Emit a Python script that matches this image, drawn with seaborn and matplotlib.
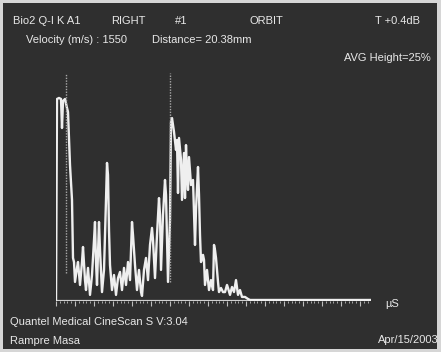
"""
A-scan echogram (Quantel CineScan) redrawn with seaborn / matplotlib
"""

import numpy as np
import pandas as pd
import matplotlib
matplotlib.use("Agg")
import matplotlib.pyplot as plt
from matplotlib import font_manager
from matplotlib.patches import Rectangle
from matplotlib.ticker import MultipleLocator
import seaborn as sns


# ── data ───────────────────────────────────────────────────────────
# depth position (display samples) and echo height (% of full scale)
depth = [0, 1, 3, 5, 6, 7, 9, 11, 12, 14, 16, 17, 18, 19, 21, 22, 24, 26, 27, 29,
         30, 32, 34, 36, 38, 39, 40, 41, 43, 44, 46, 48, 50, 51, 52, 53, 54, 56, 58, 60,
         62, 64, 66, 68, 70, 72, 74, 76, 77, 79, 81, 83, 85, 86, 88, 90, 92, 94, 96, 97,
         99, 101, 103, 104, 105, 107, 109, 110, 112, 114, 115, 116, 118, 120, 121, 122, 123, 125, 126, 128,
         129, 130, 131, 132, 133, 135, 137, 139, 140, 142, 143, 144, 145, 147, 148, 149, 151, 153, 155, 157,
         158, 159, 160, 162, 163, 165, 167, 169, 171, 172, 174, 176, 178, 180, 182, 184, 186, 189, 192, 194,
         315]
height = [0, 99.5, 100, 99.5, 85.2, 98.5, 99.5, 95.1, 93.1, 67.0, 49.8, 21.2, 19.2, 9.4, 16.3, 19.2, 7.9, 19.2, 26.6, 10.3,
          5.4, 16.3, 3.0, 12.8, 30.0, 38.9, 19.2, 7.9, 38.9, 25.1, 4.4, 15.3, 49.8, 68.0, 62.1, 35.0, 17.7, 5.4, 12.8, 3.0,
          11.3, 14.3, 5.4, 16.3, 7.9, 19.2, 10.3, 38.9, 32.5, 17.7, 5.4, 15.3, 4.4, 2.5, 15.3, 21.2, 10.3, 27.6, 36.0, 30.0,
          11.3, 32.5, 50.7, 42.4, 15.3, 42.4, 59.6, 52.2, 9.4, 39.9, 88.2, 90.1, 83.3, 74.4, 79.3, 53.2, 80.3, 69.5, 49.8, 72.9,
          50.7, 76.8, 62.1, 54.7, 70.9, 57.1, 59.6, 27.6, 44.8, 66.0, 52.2, 32.5, 19.2, 22.7, 20.2, 7.9, 15.3, 5.4, 10.3, 5.4,
          27.6, 25.1, 21.2, 9.4, 4.4, 6.4, 4.4, 4.4, 7.9, 6.4, 3.0, 6.9, 4.4, 10.3, 3.0, 5.4, 2.0, 2.0, 1.0, 0.5,
          0.5]

# measurement gates (dotted markers)
gate_pos = [10, 114]
gate_low = [13.8, 9.4]
gate_top = 112.3

header_1 = ["Bio2 Q-I K A1", "RIGHT", "#1", "ORBIT", "T +0.4dB"]
header_1_x = [13, 111, 175, 250, 375]
header_2 = ["Velocity (m/s) : 1550", "Distance= 20.38mm"]
header_2_x = [26, 152]

W, H = 441, 352
BG = "#2f2f2f"
FG = "#e8e8e8"

sns.set_style("dark", {"axes.facecolor": "none", "figure.facecolor": "#d6d6d6"})
names = {f.name for f in font_manager.fontManager.ttflist}
if "Liberation Sans Narrow" in names:
    plt.rcParams["font.family"] = ["Liberation Sans Narrow", "DejaVu Sans"]
    fs = 9.7
else:
    plt.rcParams["font.family"] = ["Liberation Sans", "DejaVu Sans"]
    fs = 8.0

fig = plt.figure(figsize=(W / 100, H / 100), dpi=100)
fig.patches.append(Rectangle((3 / W, 3 / H), (W - 7) / W, (H - 6) / H,
                             transform=fig.transFigure, facecolor=BG,
                             edgecolor="none", zorder=-5))

ax = fig.add_axes([56 / W, 51 / H, 315 / W, 241 / H])
ax.set_zorder(2)
df = pd.DataFrame({"depth": depth, "height": height})
sns.lineplot(data=df, x="depth", y="height", ax=ax, sort=False, estimator=None,
             color="#efefef", linewidth=1.7)
ax.vlines(gate_pos, gate_low, gate_top, colors="#a8a8a8", linestyles=(0, (1, 1)),
          linewidth=1.0)
ax.axhline(0, color="#cfcfcf", linewidth=1.6, zorder=1)

ax.set_xlim(0, 315)
ax.set_ylim(0, 118.7)
for s in ax.spines.values():
    s.set_visible(False)
ax.set_xlabel("")
ax.set_ylabel("")
ax.set_yticks([])
ax.xaxis.set_major_locator(MultipleLocator(19))
ax.xaxis.set_minor_locator(MultipleLocator(19 / 5))
ax.tick_params(axis="x", which="major", direction="out", length=3.5, width=0.8,
               color="#bdbdbd", labelbottom=False, bottom=True)
ax.tick_params(axis="x", which="minor", direction="out", length=1.6, width=0.6,
               color="#bdbdbd", bottom=True)


def put(x, y, s, ha="left"):
    fig.text(x / W, 1 - y / H, s, ha=ha, va="center", color=FG, fontsize=fs)


for s, x in zip(header_1, header_1_x):
    put(x, 21, s)
for s, x in zip(header_2, header_2_x):
    put(x, 40, s)
put(431, 58, "AVG Height=25%", ha="right")
put(385, 304, "µS")
put(10, 322, "Quantel Medical CineScan S V:3.04")
put(10, 341, "Rampre Masa")
put(439, 340, "Apr/15/2003", ha="right")

fig.savefig("out.png", dpi=100, facecolor=fig.get_facecolor())
